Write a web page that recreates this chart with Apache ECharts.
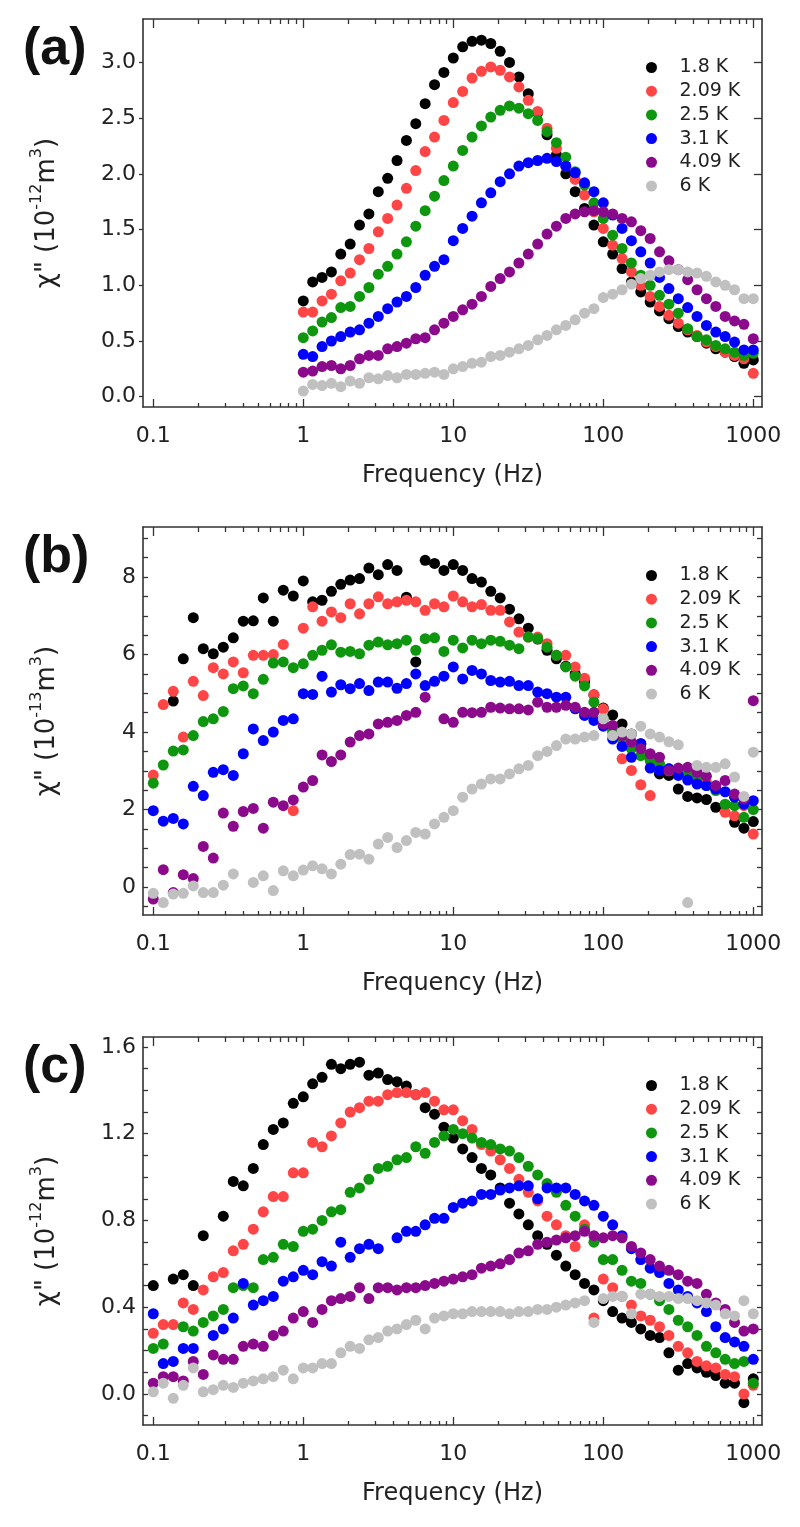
<!DOCTYPE html>
<html><head><meta charset="utf-8">
<script src="https://cdn.jsdelivr.net/npm/echarts@6/dist/echarts.min.js"></script>
<style>html,body{margin:0;padding:0;background:#fff}#c{width:800px;height:1527px}</style>
</head><body><div id="c"></div>
<script>
// ---------- data ----------
const seriesNames = ['1.8 K', '2.09 K', '2.5 K', '3.1 K', '4.09 K', '6 K'];

const freqA = [1, 1.155, 1.334, 1.54, 1.778, 2.054, 2.371, 2.738, 3.162, 3.652, 4.217, 4.87, 5.623, 6.494, 7.499, 8.66,
  10, 11.55, 13.34, 15.4, 17.78, 20.54, 23.71, 27.38, 31.62, 36.52, 42.17, 48.7, 56.23, 64.94, 74.99, 86.6,
  100, 115.5, 133.4, 154, 177.8, 205.4, 237.1, 273.8, 316.2, 365.2, 421.7, 487, 562.3, 649.4, 749.9, 866, 1000];

const freqBC = [0.1, 0.1166, 0.1359, 0.1585, 0.1848, 0.2154, 0.2512, 0.2929, 0.3415, 0.3981, 0.4642, 0.5412, 0.631, 0.7356, 0.8577,
  1, 1.155, 1.334, 1.54, 1.778, 2.054, 2.371, 2.738, 3.162, 3.652, 4.217, 4.87, 5.623, 6.494, 7.499, 8.66,
  10, 11.55, 13.34, 15.4, 17.78, 20.54, 23.71, 27.38, 31.62, 36.52, 42.17, 48.7, 56.23, 64.94, 74.99, 86.6,
  100, 115.5, 133.4, 154, 177.8, 205.4, 237.1, 273.8, 316.2, 365.2, 421.7, 487, 562.3, 649.4, 749.9, 866, 1000];

// panel (a): chi'' (1e-12 m^3)
const a_18 = [0.86, 1.03, 1.07, 1.12, 1.28, 1.37, 1.54, 1.64, 1.84, 1.96, 2.12, 2.30, 2.45, 2.63, 2.80, 2.91, 3.04, 3.14, 3.19, 3.20,
  3.17, 3.10, 3.00, 2.87, 2.72, 2.55, 2.35, 2.17, 2.00, 1.84, 1.69, 1.54, 1.39, 1.28, 1.15, 1.03, 0.94, 0.85, 0.77, 0.70,
  0.63, 0.58, 0.54, 0.48, 0.43, 0.40, 0.36, 0.30, 0.33];
const a_209 = [0.76, 0.76, 0.86, 0.92, 1.04, 1.11, 1.23, 1.33, 1.48, 1.60, 1.72, 1.87, 2.03, 2.20, 2.33, 2.48, 2.64, 2.74, 2.86, 2.92,
  2.96, 2.93, 2.87, 2.78, 2.66, 2.56, 2.41, 2.23, 2.07, 1.95, 1.81, 1.66, 1.51, 1.36, 1.24, 1.12, 1.00, 0.90, 0.81, 0.73,
  0.66, 0.60, 0.55, 0.49, 0.45, 0.40, 0.37, 0.34, 0.21];
const a_25 = [0.53, 0.59, 0.67, 0.71, 0.80, 0.81, 0.90, 0.98, 1.10, 1.17, 1.28, 1.39, 1.53, 1.67, 1.80, 1.94, 2.07, 2.21, 2.33, 2.43,
  2.51, 2.57, 2.61, 2.59, 2.54, 2.48, 2.38, 2.28, 2.15, 2.02, 1.90, 1.74, 1.60, 1.45, 1.33, 1.20, 1.09, 1.00, 0.91, 0.83,
  0.75, 0.61, 0.54, 0.51, 0.46, 0.43, 0.40, 0.37, 0.39];
const a_31 = [0.38, 0.36, 0.45, 0.50, 0.54, 0.58, 0.60, 0.66, 0.72, 0.79, 0.85, 0.90, 0.98, 1.09, 1.17, 1.23, 1.40, 1.51, 1.62, 1.74,
  1.83, 1.93, 2.00, 2.07, 2.10, 2.12, 2.14, 2.11, 2.07, 2.01, 1.92, 1.84, 1.74, 1.63, 1.51, 1.40, 1.30, 1.20, 1.07, 0.97,
  0.88, 0.80, 0.72, 0.64, 0.58, 0.54, 0.49, 0.42, 0.42];
const a_409 = [0.22, 0.23, 0.27, 0.28, 0.25, 0.28, 0.34, 0.37, 0.37, 0.43, 0.45, 0.48, 0.52, 0.53, 0.60, 0.66, 0.72, 0.78, 0.83, 0.90,
  0.99, 1.06, 1.12, 1.20, 1.28, 1.37, 1.46, 1.53, 1.60, 1.64, 1.66, 1.67, 1.66, 1.64, 1.60, 1.57, 1.49, 1.42, 1.30, 1.22,
  1.14, 1.05, 0.96, 0.88, 0.81, 0.72, 0.68, 0.65, 0.52];
const a_6 = [0.05, 0.11, 0.10, 0.12, 0.09, 0.14, 0.12, 0.17, 0.16, 0.19, 0.17, 0.20, 0.20, 0.21, 0.22, 0.20, 0.25, 0.27, 0.30, 0.31,
  0.36, 0.37, 0.40, 0.43, 0.46, 0.51, 0.55, 0.60, 0.64, 0.69, 0.75, 0.79, 0.89, 0.92, 0.96, 1.01, 1.06, 1.09, 1.12, 1.14,
  1.14, 1.12, 1.11, 1.08, 1.03, 1.00, 0.96, 0.88, 0.88];

// panel (b): chi'' (1e-13 m^3)
const b_18 = [null, null, 4.80, 5.89, 6.95, 6.15, 6.02, 6.19, 6.43, 6.86, 6.87, 7.46, 6.86, 7.66, 7.51, 7.90, 7.36, 7.40, 7.63, 7.81,
  7.92, 7.96, 8.23, 8.06, 8.32, 8.17, 7.48, 5.81, 8.43, 8.35, 8.17, 8.32, 8.17, 7.96, 7.87, 7.63, 7.46, 7.17, 6.92, 6.68,
  6.40, 6.11, 5.89, 5.70, 5.50, 5.30, 4.96, 4.62, 4.44, 4.21, 3.95, 3.70, 3.31, 2.92, 2.88, 2.53, 2.34, 2.30, 2.26, 2.06,
  2.12, 1.67, 1.52, 1.69];
const b_209 = [2.89, 4.71, 5.05, 3.87, 5.31, 4.94, 5.66, 5.50, 5.81, 5.53, 5.98, 5.98, 6.00, 6.26, 1.97, 6.68, 7.23, 6.86, 7.10, 6.95,
  7.31, 7.05, 7.31, 7.49, 7.31, 7.36, 7.40, 7.36, 7.14, 7.31, 7.23, 7.51, 7.36, 7.23, 7.29, 7.14, 7.14, 6.84, 6.58, 6.45,
  6.45, 6.28, 5.98, 5.98, 5.68, 5.39, 4.96, 4.60, 4.00, 3.31, 3.01, 2.64, 2.36, null, 3.00, 3.00, 3.00, 2.88, 2.70, 2.53,
  1.93, 1.84, 2.10, 1.37];
const b_25 = [2.68, 3.15, 3.51, 3.54, 3.91, 4.27, 4.34, 4.53, 5.12, 5.19, 4.99, 5.36, 5.78, 5.81, 5.66, 5.76, 5.98, 6.11, 6.25, 6.06,
  6.08, 6.02, 6.24, 6.32, 6.25, 6.28, 6.37, 6.11, 6.41, 6.43, 6.08, 6.37, 6.17, 6.37, 6.28, 6.37, 6.34, 6.24, 6.15, 6.45,
  6.41, 6.19, 5.98, 5.68, 5.44, 5.19, 4.77, 4.34, 4.04, 3.82, 3.57, 3.39, 3.26, 3.18, 3.05, 2.92, 2.88, 2.79, 2.62, 2.49,
  2.14, 2.10, 1.80, 2.00];
const b_31 = [1.97, 1.70, 1.77, 1.63, 2.60, 2.36, 2.96, 3.03, 2.88, 3.44, 4.08, 3.78, 4.00, 4.30, 4.34, 4.99, 4.97, 5.44, 5.03, 5.22,
  5.12, 5.25, 5.07, 5.29, 5.29, 5.13, 5.25, 5.50, 5.20, 5.31, 5.44, 5.68, 5.37, 5.59, 5.50, 5.33, 5.29, 5.31, 5.20, 5.20,
  5.03, 4.99, 4.90, 4.90, 4.60, 4.43, 4.30, 4.15, 3.82, 3.63, 3.35, 3.70, 3.07, 3.01, 3.05, 2.88, 2.76, 2.66, 2.62, 2.53,
  2.46, 2.32, 2.14, 2.23];
const b_409 = [-0.31, 0.45, -0.14, 0.32, 0.22, 1.05, 0.75, 1.91, 1.57, 1.95, 2.03, 1.52, 2.19, 2.10, 2.25, 2.58, 2.75, 3.41, 3.24, 3.41,
  3.74, 3.91, 3.95, 4.21, 4.25, 4.30, 4.43, 4.51, 4.90, null, 4.34, 4.25, 4.51, 4.50, 4.51, 4.64, 4.62, 4.60, 4.60, 4.57,
  4.77, 4.64, 4.64, 4.69, 4.64, 4.51, 4.51, 4.21, 4.17, 3.91, 3.74, 3.57, 3.44, 3.35, 3.01, 3.07, 3.09, 2.96, 2.86, 2.62,
  2.75, 2.40, 2.27, 4.81];
const b_6 = [-0.16, -0.40, -0.18, -0.16, 0.03, -0.14, -0.14, 0.05, 0.34, null, 0.12, 0.29, -0.09, 0.42, 0.29, 0.44, 0.55, 0.47, 0.34, 0.59,
  0.84, 0.85, 0.72, 1.11, 1.28, 1.02, 1.20, 1.41, 1.37, 1.63, 1.80, 1.97, 2.32, 2.53, 2.66, 2.79, 2.79, 2.92, 3.05, 3.14,
  3.39, 3.50, 3.65, 3.82, 3.82, 3.87, 3.91, 4.34, 3.91, 4.00, 3.95, 4.15, 3.95, 3.87, 3.75, 3.67, -0.40, 3.14, 3.09, 3.09,
  3.18, 2.84, 2.34, 3.48];

// panel (c): chi'' (1e-12 m^3)
const c_18 = [0.50, null, 0.53, 0.55, 0.50, 0.73, null, 0.82, 0.98, 0.96, 1.04, 1.15, 1.22, 1.25, 1.34, 1.37, 1.43, 1.46, 1.52, 1.50,
  1.52, 1.53, 1.47, 1.48, 1.45, 1.44, 1.42, 1.38, 1.32, 1.29, 1.23, 1.18, 1.13, 1.09, 1.04, 1.01, 0.95, 0.88, 0.83, 0.78,
  0.73, 0.69, 0.64, 0.59, 0.55, 0.51, 0.48, 0.43, 0.38, 0.35, 0.33, 0.30, 0.27, 0.26, 0.19, 0.11, 0.14, 0.12, 0.10, 0.085,
  0.05, 0.05, -0.04, 0.07];
const c_209 = [0.28, 0.32, 0.32, 0.42, 0.39, 0.48, 0.54, 0.56, 0.66, 0.69, 0.76, 0.84, 0.91, 0.91, 1.02, 1.02, 1.16, 1.14, 1.19, 1.25,
  1.30, 1.32, 1.35, 1.35, 1.38, 1.39, 1.39, 1.38, 1.39, 1.35, 1.31, 1.31, 1.26, 1.22, 1.15, 1.12, 1.08, 1.04, 0.99, 0.93,
  0.89, 0.82, 0.78, 0.73, 0.68, 0.78, 0.35, 0.53, 0.49, 0.45, 0.41, 0.36, 0.34, 0.31, 0.27, 0.22, 0.19, 0.15, 0.13, 0.12,
  0.09, 0.08, 0.00, 0.04];
const c_25 = [0.21, 0.23, null, 0.31, 0.29, 0.33, 0.36, 0.39, 0.49, 0.50, 0.49, 0.62, 0.63, 0.69, 0.68, 0.75, 0.76, 0.80, 0.84, 0.85,
  0.93, 0.95, 0.99, 1.04, 1.05, 1.08, 1.09, 1.14, 1.11, 1.16, 1.19, 1.22, 1.20, 1.18, 1.16, 1.15, 1.13, 1.12, 1.09, 1.05,
  1.01, 0.97, 0.93, 0.87, 0.82, 0.76, 0.70, 0.62, 0.62, 0.57, 0.52, 0.51, 0.46, 0.43, 0.39, 0.34, 0.31, 0.27, 0.22, 0.19,
  0.16, 0.14, 0.15, 0.05];
const c_31 = [0.37, 0.14, 0.15, 0.21, 0.21, null, 0.27, 0.30, 0.35, 0.51, 0.41, 0.43, 0.45, 0.52, 0.54, 0.57, 0.55, 0.61, 0.59, 0.70,
  0.63, 0.67, 0.69, 0.67, null, 0.72, 0.75, 0.75, 0.78, 0.81, 0.81, 0.86, 0.88, 0.89, 0.92, 0.92, 0.94, 0.95, 0.96, 0.96,
  0.90, 0.95, 0.95, 0.95, 0.92, 0.89, 0.87, 0.82, 0.78, 0.73, 0.67, 0.62, 0.58, 0.56, 0.51, 0.48, 0.45, 0.42, 0.38, 0.31,
  0.26, 0.24, 0.22, 0.16];
const c_409 = [0.05, 0.08, 0.08, 0.06, 0.15, 0.09, 0.18, 0.16, 0.16, 0.22, 0.23, 0.22, 0.27, 0.29, 0.35, 0.38, 0.33, 0.39, 0.43, 0.44,
  0.45, 0.49, 0.44, 0.49, 0.49, 0.48, 0.49, 0.49, 0.50, 0.51, 0.52, 0.53, 0.54, 0.55, 0.58, 0.59, 0.60, 0.62, 0.65, 0.66,
  0.69, 0.70, 0.71, 0.72, 0.73, 0.75, 0.73, 0.72, 0.73, 0.72, 0.68, 0.65, 0.62, 0.59, 0.57, 0.55, 0.52, 0.51, 0.46, 0.42,
  0.39, 0.33, 0.29, 0.30];
const c_6 = [0.01, 0.05, -0.02, 0.04, 0.12, 0.01, 0.02, 0.04, 0.03, 0.05, 0.06, 0.07, 0.08, 0.11, 0.07, 0.12, 0.12, 0.14, 0.14, 0.19,
  0.22, 0.21, 0.25, 0.26, 0.29, 0.30, 0.32, 0.34, 0.30, 0.35, 0.36, 0.37, 0.37, 0.38, 0.38, 0.38, 0.38, 0.37, 0.38, 0.38,
  0.39, 0.39, 0.40, 0.41, 0.42, 0.43, 0.33, 0.44, 0.45, 0.45, 0.37, 0.46, 0.46, 0.45, 0.45, 0.44, 0.44, 0.43, 0.42, 0.41,
  0.37, 0.36, 0.43, 0.37];

// tick values
const xMajorTicks = [0.1, 1, 10, 100, 1000];
const xMinorTicks = [0.2, 0.3, 0.4, 0.5, 0.6, 0.7, 0.8, 0.9, 2, 3, 4, 5, 6, 7, 8, 9,
  20, 30, 40, 50, 60, 70, 80, 90, 200, 300, 400, 500, 600, 700, 800, 900];
const yLabelsA = [0, 0.5, 1, 1.5, 2, 2.5, 3];
const yTicksA = [0, 0.5, 1, 1.5, 2, 2.5, 3];
const yLabelsB = [0, 2, 4, 6, 8];
const yTicksB = [-0.5, 0, 0.5, 1, 1.5, 2, 2.5, 3, 3.5, 4, 4.5, 5, 5.5, 6, 6.5, 7, 7.5, 8, 8.5, 9];
const yLabelsC = [0, 0.4, 0.8, 1.2, 1.6];
const yTicksC = [-0.1, 0, 0.1, 0.2, 0.3, 0.4, 0.5, 0.6, 0.7, 0.8, 0.9, 1, 1.1, 1.2, 1.3, 1.4, 1.5, 1.6];

// ---------- styling / layout ----------
const FONT = 'DejaVu Sans';
const COLORS = ['#000000', '#ff4545', '#0e960e', '#0000ff', '#8b0a8b', '#c0c0c0'];
const X_MIN = 0.0854, X_MAX = 1143;
const AX = '#333';

const panels = [
  { tag: '(a)', top: 19, ymin: -0.0925, ymax: 3.39, labels: yLabelsA, ticks: yTicksA, dec: 1, out: true, exp: '-12',
    freq: freqA, data: [a_18, a_209, a_25, a_31, a_409, a_6] },
  { tag: '(b)', top: 527, ymin: -0.72, ymax: 9.29, labels: yLabelsB, ticks: yTicksB, dec: 0, out: false, exp: '-13',
    freq: freqBC, data: [b_18, b_209, b_25, b_31, b_409, b_6] },
  { tag: '(c)', top: 1037, ymin: -0.143, ymax: 1.646, labels: yLabelsC, ticks: yTicksC, dec: 1, out: false, exp: '-12',
    freq: freqBC, data: [c_18, c_209, c_25, c_31, c_409, c_6] }
];

const grid = [], xAxis = [], yAxis = [], series = [], legend = [], title = [];
const GH = 388;

panels.forEach((p, i) => {
  grid.push({ left: 143, top: p.top, width: 619, height: GH, outerBoundsMode: 'none', containLabel: false });
  title.push({ text: p.tag, left: 23, top: p.top + 5, padding: 0,
    textStyle: { fontSize: 52, fontWeight: 'bold', fontFamily: 'Liberation Sans', color: '#111' } });
  const lineStyle = { color: AX, width: 1.6 };
  const tickStyle = { color: AX, width: 1.3 };
  // bottom main
  xAxis.push({ gridIndex: i, type: 'log', logBase: 10, min: X_MIN, max: X_MAX, position: 'bottom',
    name: 'Frequency (Hz)', nameLocation: 'middle', nameGap: 57,
    nameTextStyle: { fontSize: 24, fontFamily: FONT, color: '#222' },
    axisLine: { show: true, onZero: false, lineStyle },
    axisTick: { show: true, inside: true, length: 8, customValues: xMajorTicks, lineStyle: tickStyle },
    axisLabel: { show: true, customValues: xMajorTicks, margin: 18, fontSize: 22, fontFamily: FONT, color: '#222',
      formatter: v => String(+Number(v).toPrecision(4)) },
    splitLine: { show: false }, minorTick: { show: false } });
  // bottom minor
  xAxis.push({ gridIndex: i, type: 'log', logBase: 10, min: X_MIN, max: X_MAX, position: 'bottom',
    axisLine: { show: false, onZero: false }, axisLabel: { show: false }, splitLine: { show: false },
    axisTick: { show: true, inside: true, length: 4, customValues: xMinorTicks, lineStyle: tickStyle } });
  // top main
  xAxis.push({ gridIndex: i, type: 'log', logBase: 10, min: X_MIN, max: X_MAX, position: 'top',
    axisLine: { show: true, onZero: false, lineStyle }, axisLabel: { show: false }, splitLine: { show: false },
    axisTick: { show: true, inside: true, length: 9, customValues: xMajorTicks, lineStyle: tickStyle } });
  // top minor
  xAxis.push({ gridIndex: i, type: 'log', logBase: 10, min: X_MIN, max: X_MAX, position: 'top',
    axisLine: { show: false, onZero: false }, axisLabel: { show: false }, splitLine: { show: false },
    axisTick: { show: true, inside: true, length: 5, customValues: xMinorTicks, lineStyle: tickStyle } });
  // left
  yAxis.push({ gridIndex: i, type: 'value', min: p.ymin, max: p.ymax, position: 'left',
    name: '{m|χ" (10}{s|' + p.exp + '}{m|m}{s|3}{m|)}', nameLocation: 'middle', nameRotate: 90, nameGap: 78,
    nameTextStyle: { fontFamily: FONT, color: '#222',
      rich: { m: { fontSize: 26, fontFamily: FONT, color: '#222', lineHeight: 36 },
              s: { fontSize: 16, fontFamily: FONT, color: '#222', verticalAlign: 'top', lineHeight: 16 } } },
    axisLine: { show: true, onZero: false, lineStyle },
    axisTick: { show: true, inside: !p.out, length: p.out ? 4 : 5, customValues: p.ticks, lineStyle: tickStyle },
    axisLabel: { show: true, customValues: p.labels, margin: 7, fontSize: 22, fontFamily: FONT, color: '#222',
      formatter: v => Number(v).toFixed(p.dec) },
    splitLine: { show: false } });
  // right
  yAxis.push({ gridIndex: i, type: 'value', min: p.ymin, max: p.ymax, position: 'right',
    axisLine: { show: true, onZero: false, lineStyle }, axisLabel: { show: false }, splitLine: { show: false },
    axisTick: { show: true, inside: true, length: p.out ? 8 : 5, customValues: p.ticks, lineStyle: tickStyle } });

  p.data.forEach((vals, s) => {
    series.push({
      type: 'scatter', name: seriesNames[s], xAxisIndex: 4 * i, yAxisIndex: 2 * i,
      symbol: 'circle', symbolSize: 11, itemStyle: { color: COLORS[s], opacity: 1 },
      data: p.freq.map((f, k) => (vals[k] == null ? null : [f, vals[k]])).filter(d => d)
    });
  });

  legend.push({ orient: 'vertical', left: 646, top: p.top + 39, padding: 0,
    itemWidth: 46, itemHeight: 11, itemGap: 4.7, icon: 'circle', data: seriesNames,
    textStyle: { fontSize: 19, fontFamily: FONT, color: '#222', lineHeight: 19 } });
});

const chart = echarts.init(document.getElementById('c'), null, { renderer: 'canvas' });
chart.setOption({
  animation: false,
  backgroundColor: '#ffffff',
  textStyle: { fontFamily: FONT },
  title, grid, xAxis, yAxis, legend, series
});
</script></body></html>
